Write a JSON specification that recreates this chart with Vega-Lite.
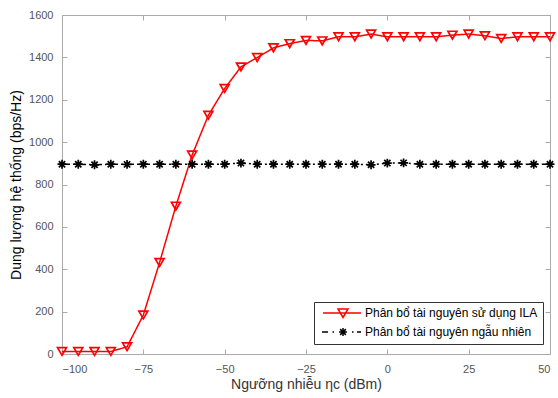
{
  "$schema": "https://vega.github.io/schema/vega-lite/v6.json",
  "autosize": "none",
  "width": 488,
  "height": 339,
  "padding": {"left": 62, "top": 15, "right": 8, "bottom": 44},
  "background": "white",
  "config": {
    "view": {"stroke": null},
    "font": "Liberation Sans",
    "axis": {
      "grid": false,
      "domainColor": "#aaaaaa",
      "tickColor": "#aaaaaa",
      "labelColor": "#555555",
      "labelFont": "Liberation Sans",
      "labelFontSize": 11,
      "titleFont": "Liberation Sans",
      "titleFontWeight": "normal",
      "titleFontSize": 14
    }
  },
  "data": {
    "values": [
      {"x": -100, "y": 12, "s": "Phân bổ tài nguyên sử dụng ILA"},
      {"x": -95, "y": 12, "s": "Phân bổ tài nguyên sử dụng ILA"},
      {"x": -90, "y": 12, "s": "Phân bổ tài nguyên sử dụng ILA"},
      {"x": -85, "y": 12, "s": "Phân bổ tài nguyên sử dụng ILA"},
      {"x": -80, "y": 34, "s": "Phân bổ tài nguyên sử dụng ILA"},
      {"x": -75, "y": 184, "s": "Phân bổ tài nguyên sử dụng ILA"},
      {"x": -70, "y": 432, "s": "Phân bổ tài nguyên sử dụng ILA"},
      {"x": -65, "y": 698, "s": "Phân bổ tài nguyên sử dụng ILA"},
      {"x": -60, "y": 939, "s": "Phân bổ tài nguyên sử dụng ILA"},
      {"x": -55, "y": 1127, "s": "Phân bổ tài nguyên sử dụng ILA"},
      {"x": -50, "y": 1253, "s": "Phân bổ tài nguyên sử dụng ILA"},
      {"x": -45, "y": 1355, "s": "Phân bổ tài nguyên sử dụng ILA"},
      {"x": -40, "y": 1399, "s": "Phân bổ tài nguyên sử dụng ILA"},
      {"x": -35, "y": 1445, "s": "Phân bổ tài nguyên sử dụng ILA"},
      {"x": -30, "y": 1465, "s": "Phân bổ tài nguyên sử dụng ILA"},
      {"x": -25, "y": 1480, "s": "Phân bổ tài nguyên sử dụng ILA"},
      {"x": -20, "y": 1478, "s": "Phân bổ tài nguyên sử dụng ILA"},
      {"x": -15, "y": 1497, "s": "Phân bổ tài nguyên sử dụng ILA"},
      {"x": -10, "y": 1497, "s": "Phân bổ tài nguyên sử dụng ILA"},
      {"x": -5, "y": 1510, "s": "Phân bổ tài nguyên sử dụng ILA"},
      {"x": 0, "y": 1497, "s": "Phân bổ tài nguyên sử dụng ILA"},
      {"x": 5, "y": 1497, "s": "Phân bổ tài nguyên sử dụng ILA"},
      {"x": 10, "y": 1497, "s": "Phân bổ tài nguyên sử dụng ILA"},
      {"x": 15, "y": 1497, "s": "Phân bổ tài nguyên sử dụng ILA"},
      {"x": 20, "y": 1505, "s": "Phân bổ tài nguyên sử dụng ILA"},
      {"x": 25, "y": 1510, "s": "Phân bổ tài nguyên sử dụng ILA"},
      {"x": 30, "y": 1502, "s": "Phân bổ tài nguyên sử dụng ILA"},
      {"x": 35, "y": 1489, "s": "Phân bổ tài nguyên sử dụng ILA"},
      {"x": 40, "y": 1497, "s": "Phân bổ tài nguyên sử dụng ILA"},
      {"x": 45, "y": 1497, "s": "Phân bổ tài nguyên sử dụng ILA"},
      {"x": 50, "y": 1497, "s": "Phân bổ tài nguyên sử dụng ILA"},
      {"x": -100, "y": 896, "s": "Phân bổ tài nguyên ngẫu nhiên"},
      {"x": -95, "y": 896, "s": "Phân bổ tài nguyên ngẫu nhiên"},
      {"x": -90, "y": 893, "s": "Phân bổ tài nguyên ngẫu nhiên"},
      {"x": -85, "y": 896, "s": "Phân bổ tài nguyên ngẫu nhiên"},
      {"x": -80, "y": 895, "s": "Phân bổ tài nguyên ngẫu nhiên"},
      {"x": -75, "y": 896, "s": "Phân bổ tài nguyên ngẫu nhiên"},
      {"x": -70, "y": 896, "s": "Phân bổ tài nguyên ngẫu nhiên"},
      {"x": -65, "y": 896, "s": "Phân bổ tài nguyên ngẫu nhiên"},
      {"x": -60, "y": 896, "s": "Phân bổ tài nguyên ngẫu nhiên"},
      {"x": -55, "y": 896, "s": "Phân bổ tài nguyên ngẫu nhiên"},
      {"x": -50, "y": 896, "s": "Phân bổ tài nguyên ngẫu nhiên"},
      {"x": -45, "y": 901, "s": "Phân bổ tài nguyên ngẫu nhiên"},
      {"x": -40, "y": 896, "s": "Phân bổ tài nguyên ngẫu nhiên"},
      {"x": -35, "y": 896, "s": "Phân bổ tài nguyên ngẫu nhiên"},
      {"x": -30, "y": 896, "s": "Phân bổ tài nguyên ngẫu nhiên"},
      {"x": -25, "y": 896, "s": "Phân bổ tài nguyên ngẫu nhiên"},
      {"x": -20, "y": 896, "s": "Phân bổ tài nguyên ngẫu nhiên"},
      {"x": -15, "y": 896, "s": "Phân bổ tài nguyên ngẫu nhiên"},
      {"x": -10, "y": 896, "s": "Phân bổ tài nguyên ngẫu nhiên"},
      {"x": -5, "y": 893, "s": "Phân bổ tài nguyên ngẫu nhiên"},
      {"x": 0, "y": 901, "s": "Phân bổ tài nguyên ngẫu nhiên"},
      {"x": 5, "y": 902, "s": "Phân bổ tài nguyên ngẫu nhiên"},
      {"x": 10, "y": 896, "s": "Phân bổ tài nguyên ngẫu nhiên"},
      {"x": 15, "y": 896, "s": "Phân bổ tài nguyên ngẫu nhiên"},
      {"x": 20, "y": 896, "s": "Phân bổ tài nguyên ngẫu nhiên"},
      {"x": 25, "y": 896, "s": "Phân bổ tài nguyên ngẫu nhiên"},
      {"x": 30, "y": 896, "s": "Phân bổ tài nguyên ngẫu nhiên"},
      {"x": 35, "y": 896, "s": "Phân bổ tài nguyên ngẫu nhiên"},
      {"x": 40, "y": 896, "s": "Phân bổ tài nguyên ngẫu nhiên"},
      {"x": 45, "y": 896, "s": "Phân bổ tài nguyên ngẫu nhiên"},
      {"x": 50, "y": 896, "s": "Phân bổ tài nguyên ngẫu nhiên"}
    ]
  },
  "layer": [
    {
      "mark": {"type": "line", "strokeWidth": 1.5},
      "encoding": {
        "x": {"field": "x", "type": "quantitative", "scale": {"domain": [-100, 50], "nice": false, "zero": false},
          "axis": {"orient": "bottom", "values": [-100, -75, -50, -25, 0, 25, 50], "format": "d", "tickSize": -5, "labelPadding": 14, "title": "Ngưỡng nhiễu ηc (dBm)", "titleColor": "#333333", "titleFontSize": 14, "titlePadding": 3}},
        "y": {"field": "y", "type": "quantitative", "scale": {"domain": [0, 1600], "nice": false},
          "axis": {"orient": "left", "values": [0, 200, 400, 600, 800, 1000, 1200, 1400, 1600], "format": "d", "tickSize": -5, "labelPadding": 14, "title": "Dung lượng hệ thống (bps/Hz)", "titleColor": "#000000", "titlePadding": 5}},
        "color": {"field": "s", "type": "nominal", "scale": {"domain": ["Phân bổ tài nguyên sử dụng ILA", "Phân bổ tài nguyên ngẫu nhiên"], "range": ["#ff0000", "#000000"]}, "legend": null},
        "strokeDash": {"field": "s", "type": "nominal", "scale": {"domain": ["Phân bổ tài nguyên sử dụng ILA", "Phân bổ tài nguyên ngẫu nhiên"], "range": [[1, 0], [8, 3, 2, 3]]}, "legend": null}
      }
    },
    {
      "mark": {"type": "point", "filled": false, "size": 80, "strokeWidth": 1.7, "opacity": 1},
      "encoding": {
        "x": {"field": "x", "type": "quantitative", "scale": {"domain": [-100, 50], "nice": false, "zero": false},
          "axis": {"orient": "top", "values": [-100, -75, -50, -25, 0, 25, 50], "tickSize": -5, "labels": false, "title": null}},
        "y": {"field": "y", "type": "quantitative", "scale": {"domain": [0, 1600], "nice": false},
          "axis": {"orient": "right", "values": [0, 200, 400, 600, 800, 1000, 1200, 1400, 1600], "tickSize": -5, "labels": false, "title": null}},
        "color": {"field": "s", "type": "nominal", "scale": {"domain": ["Phân bổ tài nguyên sử dụng ILA", "Phân bổ tài nguyên ngẫu nhiên"], "range": ["#ff0000", "#000000"]}, "legend": null},
        "shape": {"field": "s", "type": "nominal", "scale": {"domain": ["Phân bổ tài nguyên sử dụng ILA", "Phân bổ tài nguyên ngẫu nhiên"], "range": ["triangle-down", "M-1,0L1,0M0,-1L0,1M-0.7,-0.7L0.7,0.7M-0.7,0.7L0.7,-0.7"]}, "legend": null}
      }
    },
    {
      "data": {"values": []},
      "mark": {"type": "point", "filled": false, "strokeWidth": 1.5, "opacity": 1},
      "encoding": {
        "color": {"field": "s", "type": "nominal", "scale": {"domain": ["Phân bổ tài nguyên sử dụng ILA", "Phân bổ tài nguyên ngẫu nhiên"], "range": ["#ff0000", "#000000"]},
          "legend": {"orient": "none", "legendX": 252, "legendY": 287, "title": null}},
        "shape": {"field": "s", "type": "nominal", "scale": {"domain": ["Phân bổ tài nguyên sử dụng ILA", "Phân bổ tài nguyên ngẫu nhiên"], "range": ["M-4,0L3.6,0M-1,-0.8L1,-0.8L0,0.9Z", "M-4.2,0L-3,0M-2.1,0L-1.8,0M1.8,0L2.1,0M2.8,0L3.6,0M-0.8,0L0.8,0M0,-0.8L0,0.8M-0.57,-0.57L0.57,0.57M-0.57,0.57L0.57,-0.57"]},
          "legend": {"orient": "none", "legendX": 252, "legendY": 287, "title": null, "symbolSize": 100, "symbolStrokeWidth": 1.5, "symbolOffset": 18, "labelOffset": 16, "labelFontSize": 12, "labelLimit": 0, "labelColor": "#000000", "labelFont": "Liberation Sans", "rowPadding": 4, "padding": 5, "strokeColor": "#333333", "fillColor": "#ffffff"}}
      }
    }
  ],
  "resolve": {
    "scale": {"color": "independent", "shape": "independent"},
    "axis": {"x": "independent", "y": "independent"},
    "legend": {"color": "independent", "shape": "independent"}
  }
}
